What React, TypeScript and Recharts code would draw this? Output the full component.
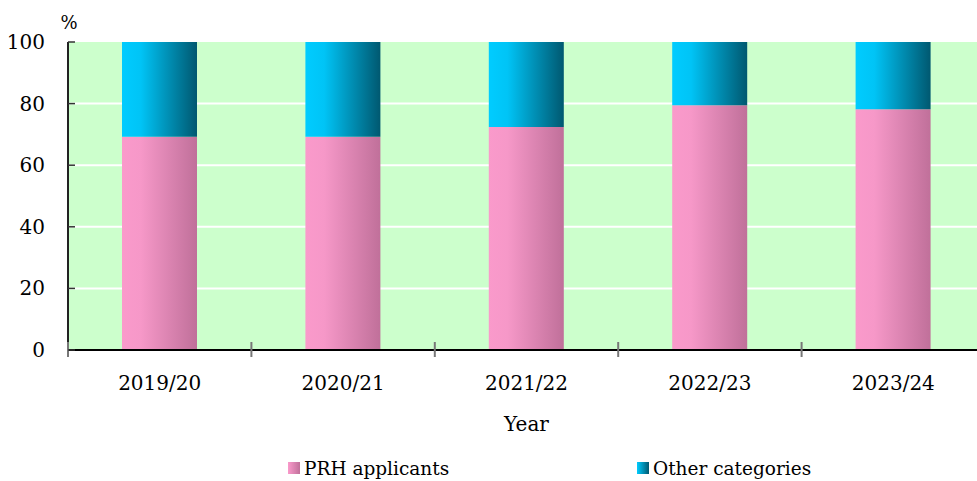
import { Bar, BarChart, CartesianGrid, Legend, XAxis, YAxis } from "recharts";

const years = ["2019/20", "2020/21", "2021/22", "2022/23", "2023/24"];
const prhApplicants = [69.2, 69.2, 72.4, 79.5, 78.2];
const otherCategories = [30.8, 30.8, 27.6, 20.5, 21.8];
const yTicks = [0, 20, 40, 60, 80, 100];

const FONT = "DejaVu Serif";
const BG = "#ccffcc";

const data = years.map((year, i) => ({
  year,
  prh: prhApplicants[i],
  other: otherCategories[i],
}));

function YTick({ x, y, payload }: any) {
  return (
    <g>
      <line x1={x} x2={x + 7} y1={y} y2={y} stroke="#333" strokeWidth={1.5} />
      <text x={x - 23} y={y} dy={7} textAnchor="end" fontFamily={FONT} fontSize={20} fill="#000">
        {payload.value}
      </text>
    </g>
  );
}

// category label plus the boundary tick on the left edge of each band
function XTick({ x, y, payload, width, visibleTicksCount }: any) {
  const half = width / visibleTicksCount / 2;
  return (
    <g>
      <line x1={x - half} x2={x - half} y1={y - 8} y2={y + 7} stroke="#777" strokeWidth={2} />
      <text x={x} y={y + 40} textAnchor="middle" fontFamily={FONT} fontSize={20} fill="#000">
        {payload.value}
      </text>
    </g>
  );
}

function LegendBox() {
  const items = [
    { label: "PRH applicants", fill: "url(#lgPink)", left: 288 },
    { label: "Other categories", fill: "url(#lgBlue)", left: 637 },
  ];
  return (
    <svg width={977} height={30} style={{ display: "block" }}>
      <defs>
        <linearGradient id="lgPink" x1="0" y1="0" x2="1" y2="0">
          <stop offset="0" stopColor="#fa9acb" />
          <stop offset="1" stopColor="#c0709a" />
        </linearGradient>
        <linearGradient id="lgBlue" x1="0" y1="0" x2="1" y2="0">
          <stop offset="0" stopColor="#00ccff" />
          <stop offset="1" stopColor="#005870" />
        </linearGradient>
      </defs>
      {items.map((it) => (
        <g key={it.label}>
          <rect x={it.left} y={13} width={12} height={12} fill={it.fill} />
          <text x={it.left + 16} y={26} fontFamily={FONT} fontSize={18.5} fill="#000">
            {it.label}
          </text>
        </g>
      ))}
    </svg>
  );
}

export default function App() {
  return (
    <div style={{ position: "absolute", left: 0, top: 0, width: 977, height: 481, background: "#fff", overflow: "hidden" }}>
      <BarChart
        width={977}
        height={481}
        data={data}
        margin={{ top: 42, right: -8, left: 0, bottom: 30 }}
        barCategoryGap={0}
      >
        <defs>
          <linearGradient id="gPink" x1="0" y1="0" x2="1" y2="0">
            <stop offset="0" stopColor="#fa9acb" />
            <stop offset="0.25" stopColor="#f698c8" />
            <stop offset="1" stopColor="#c0709a" />
          </linearGradient>
          <linearGradient id="gBlue" x1="0" y1="0" x2="1" y2="0">
            <stop offset="0" stopColor="#00ccff" />
            <stop offset="0.25" stopColor="#00c4f6" />
            <stop offset="1" stopColor="#005870" />
          </linearGradient>
        </defs>
        <CartesianGrid fill={BG} stroke="#ffffff" strokeWidth={2} vertical={false} horizontalValues={[20, 40, 60, 80]} />
        <XAxis
          dataKey="year"
          height={101}
          axisLine={{ stroke: "#000", strokeWidth: 2 }}
          tickLine={false}
          tickSize={0}
          tickMargin={0}
          tick={<XTick />}
          interval={0}
          label={{ value: "Year", position: "insideBottom", offset: 20, fontSize: 20, fontFamily: FONT, fill: "#000" }}
        />
        <YAxis
          width={68}
          domain={[0, 100]}
          ticks={yTicks}
          interval={0}
          axisLine={{ stroke: "#222", strokeWidth: 2 }}
          tickLine={false}
          tickSize={0}
          tickMargin={0}
          tick={<YTick />}
          label={{
            value: "%",
            content: ({ viewBox }: any) => (
              <text x={viewBox.x + viewBox.width + 1} y={viewBox.y - 13} textAnchor="middle" fontFamily={FONT} fontSize={18} fill="#000">
                %
              </text>
            ),
          }}
        />
        <Bar dataKey="prh" stackId="a" fill="url(#gPink)" barSize={75} isAnimationActive={false} />
        <Bar dataKey="other" stackId="a" fill="url(#gBlue)" barSize={75} isAnimationActive={false} />
        <Legend
          layout="horizontal"
          verticalAlign="middle"
          align="center"
          content={() => <LegendBox />}
          wrapperStyle={{ position: "absolute", left: 0, top: 449, width: 977, height: 30 }}
        />
      </BarChart>
    </div>
  );
}
